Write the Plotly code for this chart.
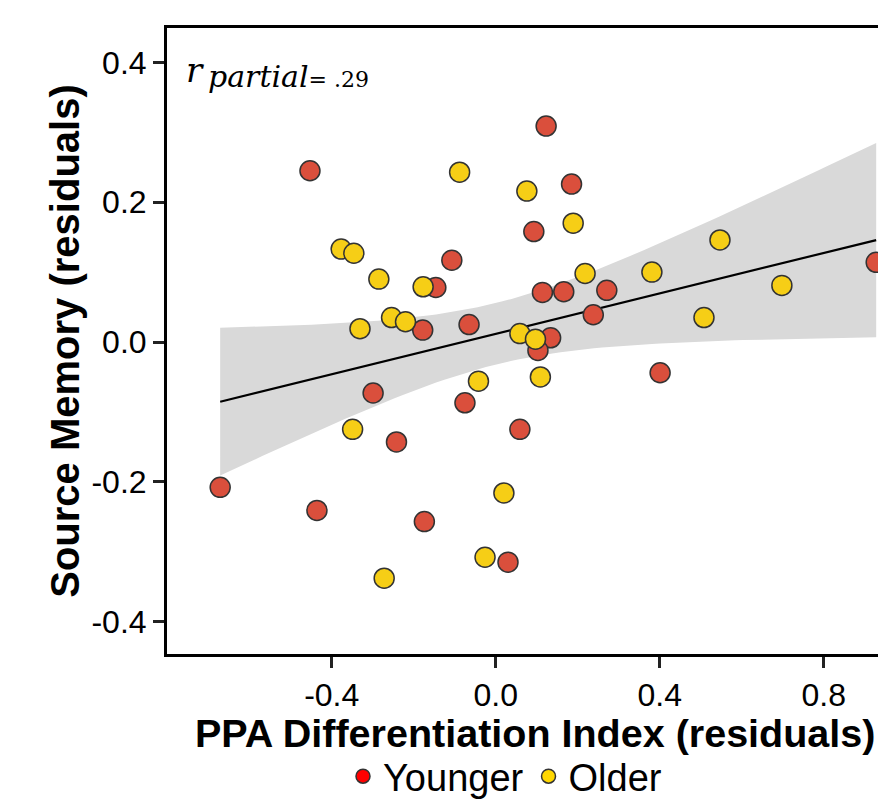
import numpy as np
import plotly.graph_objects as go

# ---- data ----
young_x = [-0.453, 0.123, 0.185, 0.093, -0.107, -0.146, -0.178, -0.065, 0.114, 0.166,
           0.271, 0.238, 0.134, 0.103, -0.299, -0.075, 0.059, 0.401, -0.242, -0.672,
           -0.436, -0.174, 0.030, 0.928]
young_y = [0.245, 0.309, 0.226, 0.158, 0.117, 0.078, 0.017, 0.025, 0.071, 0.072,
           0.074, 0.039, 0.006, -0.012, -0.073, -0.087, -0.125, -0.044, -0.143, -0.208,
           -0.241, -0.257, -0.315, 0.114]
old_x = [-0.088, 0.076, 0.189, -0.377, -0.346, -0.285, 0.218, 0.381, 0.547, 0.698,
         0.508, -0.177, -0.331, -0.254, -0.220, 0.059, 0.097, -0.042, 0.109, -0.349,
         0.020, -0.026, -0.272]
old_y = [0.243, 0.216, 0.170, 0.133, 0.127, 0.090, 0.098, 0.100, 0.146, 0.081,
         0.035, 0.079, 0.019, 0.035, 0.029, 0.012, 0.004, -0.056, -0.050, -0.125,
         -0.216, -0.308, -0.338]
group_names = ["Younger", "Older"]
x_ticks = [-0.4, 0.0, 0.4, 0.8]
x_tick_text = ["-0.4", "0.0", "0.4", "0.8"]
y_ticks = [-0.4, -0.2, 0.0, 0.2, 0.4]
y_tick_text = ["-0.4", "-0.2", "0.0", "0.2", "0.4"]
x_title = "PPA Differentiation Index (residuals)"
y_title = "Source Memory (residuals)"
stat_text = "= .29"

# ---- linear fit with 95% confidence band (like geom_smooth(method='lm')) ----
X = np.array(young_x + old_x)
Y = np.array(young_y + old_y)
n = len(X)
b1, b0 = np.polyfit(X, Y, 1)
resid = Y - (b0 + b1 * X)
s = np.sqrt(np.sum(resid ** 2) / (n - 2))
xg = np.linspace(X.min(), X.max(), 80)
yg = b0 + b1 * xg
sxx = np.sum((X - X.mean()) ** 2)
se = s * np.sqrt(1.0 / n + (xg - X.mean()) ** 2 / sxx)
tcrit = 2.014
lo = yg - tcrit * se
hi = yg + tcrit * se

RED = "#DA4F3C"
YEL = "#F6CE16"

fig = go.Figure()
fig.add_trace(go.Scatter(x=np.concatenate([xg, xg[::-1]]), y=np.concatenate([hi, lo[::-1]]),
                         fill="toself", fillcolor="#D9D9D9", line=dict(width=0),
                         mode="lines", hoverinfo="skip", showlegend=False))
fig.add_trace(go.Scatter(x=xg, y=yg, mode="lines", line=dict(color="black", width=2.2),
                         showlegend=False))
fig.add_trace(go.Scatter(x=young_x, y=young_y, mode="markers", showlegend=False, cliponaxis=False,
                         marker=dict(size=20, color=RED, line=dict(color="#333333", width=1.5))))
fig.add_trace(go.Scatter(x=old_x, y=old_y, mode="markers", showlegend=False, cliponaxis=False,
                         marker=dict(size=20, color=YEL, line=dict(color="#333333", width=1.5))))
# legend entries
fig.add_trace(go.Scatter(x=[None], y=[None], mode="markers", name=group_names[0],
                         marker=dict(size=14, color="#FF0000", line=dict(color="#333333", width=1.5))))
fig.add_trace(go.Scatter(x=[None], y=[None], mode="markers", name=group_names[1],
                         marker=dict(size=14, color="#FFD700", line=dict(color="#333333", width=1.5))))

# page has an 8px body margin: figure origin sits at page (8, 8)
OFF = 8
W, H = 878, 800
PL, PT, PB = 167, 28, 655          # plot area edges in page pixels
L, T = PL - OFF, PT - OFF
B = H - (PB - OFF)
R = 0
pw, ph = W - L - R, H - T - B
x_right_page = OFF + W             # right edge of plot area in page pixels


def px(xp):
    return (xp - OFF - L) / pw


def py(yp):
    return ((PB - OFF) - (yp - OFF)) / ph


fig.add_annotation(text="<i>r</i>", xref="paper", yref="paper", x=px(206), y=py(70),
                   xanchor="right", yanchor="middle", showarrow=False,
                   font=dict(family="DejaVu Serif", size=34, color="black"))
fig.add_annotation(text="<i>partial</i><span style=\"font-size:22px\">" + stat_text + "</span>",
                   xref="paper", yref="paper", x=px(206), y=py(77),
                   xanchor="left", yanchor="middle", showarrow=False,
                   font=dict(family="DejaVu Serif", size=30, color="black"))
# x-axis title (placed as text to sit as close to the tick labels as in the reference)
fig.add_annotation(text=x_title, xref="paper", yref="paper", x=px(535), y=py(734),
                   xanchor="center", yanchor="middle", showarrow=False,
                   font=dict(family="Liberation Sans", size=39.5, color="black", weight="bold"))

axis_common = dict(showgrid=False, zeroline=False, showline=True, linecolor="black",
                   linewidth=3, ticks="outside", ticklen=11, tickwidth=3, tickcolor="#222222",
                   tickfont=dict(family="Liberation Sans", size=32, color="black"))
fig.update_xaxes(range=[(PL - 495.7) / 410, (x_right_page - 495.7) / 410],
                 tickvals=x_ticks, ticktext=x_tick_text, mirror=True,
                 **axis_common)
fig.update_yaxes(range=[(342.5 - PB) / 700, (342.5 - PT) / 700],
                 tickvals=y_ticks, ticktext=y_tick_text,
                 title=dict(text=y_title, standoff=0,
                            font=dict(family="Liberation Sans", size=40, color="black", weight="bold")),
                 **axis_common)

fig.update_layout(width=W, height=H, margin=dict(l=L, r=R, t=T, b=B),
                  plot_bgcolor="white", paper_bgcolor="white",
                  showlegend=True,
                  legend=dict(orientation="h", x=px(343), y=py(778), xanchor="left", yanchor="middle",
                              font=dict(family="Liberation Sans", size=38, color="black"),
                              itemwidth=30, tracegroupgap=0, bgcolor="rgba(0,0,0,0)"))
fig.write_html("out.html")
